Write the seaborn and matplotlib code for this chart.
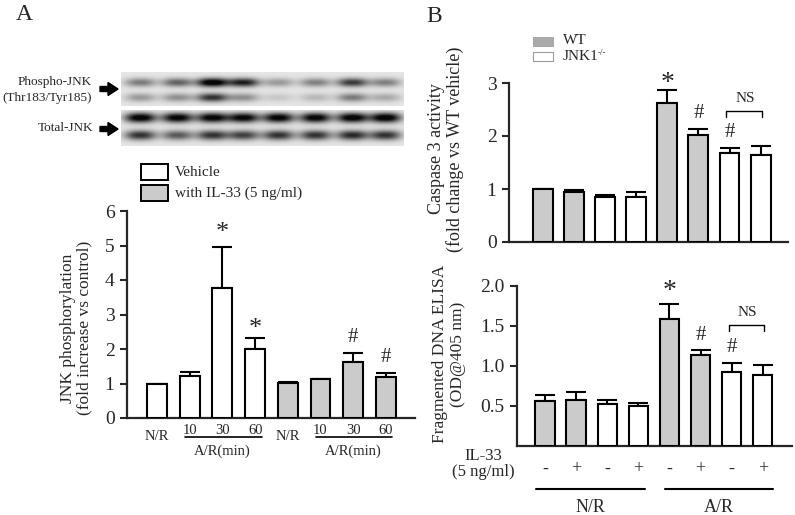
import numpy as np
import pandas as pd
import matplotlib
matplotlib.use("Agg")
import matplotlib.pyplot as plt
import matplotlib.transforms as mtransforms
from matplotlib.patches import Rectangle, Polygon
import seaborn as sns

# ── Data ─────────────────────────────────────────────────────────────────────

# Panel A: JNK phosphorylation (fold increase vs control)
a_lanes = ["veh_NR", "veh_10", "veh_30", "veh_60", "il_NR", "il_10", "il_30", "il_60"]
a_group = ["Vehicle"] * 4 + ["IL-33"] * 4
a_mean = [1.00, 1.22, 3.77, 2.00, 1.01, 1.12, 1.63, 1.19]
a_sem = [0.00, 0.12, 1.18, 0.31, 0.04, 0.02, 0.25, 0.10]
a_marks = {2: "*", 3: "*", 6: "#", 7: "#"}
a_time_labels = ["10", "30", "60"]

# Western blot band intensities per lane (0..1, darker = stronger)
blot_phospho_upper = [0.42, 0.52, 1.00, 0.80, 0.30, 0.40, 0.68, 0.40]
blot_phospho_lower = [0.30, 0.34, 0.72, 0.34, 0.12, 0.18, 0.42, 0.24]
blot_total_upper = [0.98, 0.95, 0.95, 0.93, 0.95, 0.95, 0.98, 1.00]
blot_total_lower = [0.72, 0.56, 0.72, 0.66, 0.72, 0.72, 0.76, 0.72]

# Panel B: WT vs JNK1-/- with/without IL-33
b_lanes = ["NR_WT_-", "NR_WT_+", "NR_KO_-", "NR_KO_+", "AR_WT_-", "AR_WT_+", "AR_KO_-", "AR_KO_+"]
b_genotype = ["WT", "WT", "KO", "KO", "WT", "WT", "KO", "KO"]
b_il33 = ["-", "+", "-", "+", "-", "+", "-", "+"]
casp_mean = [1.00, 0.94, 0.84, 0.85, 2.63, 2.01, 1.67, 1.64]
casp_sem = [0.00, 0.05, 0.05, 0.09, 0.23, 0.13, 0.10, 0.18]
dna_mean = [0.56, 0.57, 0.52, 0.50, 1.59, 1.14, 0.92, 0.89]
dna_sem = [0.08, 0.11, 0.06, 0.04, 0.18, 0.06, 0.12, 0.12]
b_marks = {4: "*", 5: "#", 6: "#"}

# ── Style ────────────────────────────────────────────────────────────────────

W, H = 795, 515
GRAY = "#cbcbcb"
sns.set_style("ticks")
plt.rcParams["font.family"] = ["Liberation Serif", "DejaVu Serif"]
plt.rcParams["mathtext.fontset"] = "stix"
plt.rcParams["axes.linewidth"] = 1.5

fig = plt.figure(figsize=(W / 100, H / 100), dpi=100)


def px_axes(x0, y0, x1, y1):
    """Axes placed by pixel box (top-left origin)."""
    return fig.add_axes([x0 / W, 1 - y1 / H, (x1 - x0) / W, (y1 - y0) / H])


def fy(y):
    return 1 - y / H


def fx(x):
    return x / W


def bar_panel(ax, lanes, groups, means, sems, palette, xlim, ylim, width):
    df = pd.DataFrame({"lane": lanes, "group": groups, "mean": means})
    sns.barplot(data=df, x="lane", y="mean", hue="group", palette=palette,
                order=lanes, dodge=False, width=width, edgecolor="black",
                linewidth=1.5, errorbar=None, legend=False, ax=ax, zorder=3)
    ax.errorbar(np.arange(len(lanes)), means, yerr=[np.zeros(len(lanes)), sems],
                fmt="none", ecolor="black", elinewidth=1.5, capsize=7.5,
                capthick=1.5, zorder=2)
    ax.set_xlim(*xlim)
    ax.set_ylim(*ylim)
    ax.set_xlabel("")
    ax.set_ylabel("")
    ax.set_xticks([])
    ax.patch.set_alpha(0)
    sns.despine(ax=ax)
    ax.tick_params(axis="y", direction="out", length=5, width=1.5, pad=4)
    for s in ("left", "bottom"):
        ax.spines[s].set_linewidth(1.6)


# ── Panel A ──────────────────────────────────────────────────────────────────

fig.text(fx(24), fy(15), "A", fontsize=17, ha="center", va="center")

# blot strips
lane_x = np.array([19, 56, 91, 122, 157, 194, 231, 264])


def blot_image(h, w, rows, wy):
    yy, xx = np.mgrid[0:h, 0:w]
    img = np.full((h, w), 0.90)
    for cy, vals in rows:
        for cx, v in zip(lane_x, vals):
            shape = np.exp(-np.abs((xx - cx) / 15.5) ** 2.5) * np.exp(-((yy - cy) / wy) ** 2)
            img -= 1.0 * v * shape
    return np.clip(img, 0.03, 1)


ax_p = px_axes(121, 72, 404, 106)
ax_p.imshow(blot_image(34, 283, [(10, blot_phospho_upper), (25, blot_phospho_lower)], 4.4),
            cmap="gray", vmin=0, vmax=1, aspect="auto", interpolation="bilinear")
ax_p.axis("off")
ax_t = px_axes(121, 110, 404, 146)
ax_t.imshow(blot_image(36, 283, [(8, blot_total_upper), (25, blot_total_lower)], 4.8),
            cmap="gray", vmin=0, vmax=1, aspect="auto", interpolation="bilinear")
ax_t.axis("off")

fig.text(fx(92), fy(82), "Phospho-JNK", fontsize=9.5, ha="right", va="center")
fig.text(fx(92), fy(98), "(Thr183/Tyr185)", fontsize=9.5, ha="right", va="center")
fig.text(fx(93), fy(128), "Total-JNK", fontsize=9.5, ha="right", va="center")


def arrow(cy):
    pts = [(100, cy - 2.5), (108, cy - 2.5), (108, cy - 6.5), (118, cy),
           (108, cy + 6.5), (108, cy + 2.5), (100, cy + 2.5)]
    fig.add_artist(Polygon([(fx(x), fy(y)) for x, y in pts], closed=True,
                           transform=fig.transFigure, color="black"))


arrow(89)
arrow(129)

# legend A
for (y0, y1), col, lab in [((164, 180), "white", "Vehicle"),
                           ((185, 201), GRAY, "with IL-33 (5 ng/ml)")]:
    fig.add_artist(Rectangle((fx(141), fy(y1)), (168 - 141) / W, (y1 - y0) / H,
                             transform=fig.transFigure, facecolor=col,
                             edgecolor="black", linewidth=1.4))
    fig.text(fx(175), fy((y0 + y1) / 2), lab, fontsize=11, ha="left", va="center")

axA = px_axes(127, 211, 415, 418)
bar_panel(axA, a_lanes, a_group, a_mean, a_sem,
          {"Vehicle": "white", "IL-33": GRAY}, (-0.92, 7.89), (0, 6), 0.61)
axA.set_yticks(range(0, 7))
axA.tick_params(axis="y", labelsize=14)

blendA = mtransforms.blended_transform_factory(axA.transData, fig.transFigure)
mark_y_A = {2: 233, 3: 329, 6: 337, 7: 357}
for i, m in a_marks.items():
    axA.text(i, fy(mark_y_A[i]), m, transform=blendA, ha="center", va="center",
             fontsize=19 if m == "*" else 15)

for start in (0, 4):
    axA.text(start, fy(437), "N/R", transform=blendA, ha="center", va="center", fontsize=10.5)
    for k, lab in enumerate(a_time_labels):
        axA.text(start + 1 + k, fy(430), lab, transform=blendA, ha="center",
                 va="center", fontsize=10.5)
    axA.plot([start + 0.86, start + 3.2], [fy(437)] * 2, transform=blendA,
             color="black", lw=1.2, clip_on=False)
    axA.text(start + 2, fy(451), "A/R(min)", transform=blendA, ha="center",
             va="center", fontsize=10.5)

fig.text(fx(76), fy(328), "JNK phosphorylation\n(fold increase vs control)",
         rotation=90, ha="center", va="center", fontsize=12.5, linespacing=1.05)

# ── Panel B ──────────────────────────────────────────────────────────────────

fig.text(fx(434), fy(16), "B", fontsize=17, ha="center", va="center")

fig.add_artist(Rectangle((fx(533), fy(46)), 20 / W, 9 / H, transform=fig.transFigure,
                         facecolor="#a9a9a9", edgecolor="#a0a0a0", linewidth=0.6))
fig.add_artist(Rectangle((fx(533), fy(61)), 20 / W, 9 / H, transform=fig.transFigure,
                         facecolor="white", edgecolor="#9a9a9a", linewidth=0.8))
fig.text(fx(563), fy(41), "WT", fontsize=11, ha="left", va="center")
fig.text(fx(563), fy(57), "JNK1", fontsize=11, ha="left", va="center")
fig.text(fx(598), fy(53), "-/-", fontsize=6.5, ha="left", va="center")

b_palette = {"WT": GRAY, "KO": "white"}

axC = px_axes(509, 83, 788, 242)
bar_panel(axC, b_lanes, b_genotype, casp_mean, casp_sem, b_palette,
          (-1.09, 7.88), (0, 3), 0.64)
axC.set_yticks([0, 1, 2, 3])
axC.tick_params(axis="y", labelsize=14)

axD = px_axes(517, 286, 792, 446)
bar_panel(axD, b_lanes, b_genotype, dna_mean, dna_sem, b_palette,
          (-0.9, 7.94), (0, 2.0), 0.62)
axD.set_yticks([0.5, 1.0, 1.5, 2.0])
axD.set_yticklabels(["0.5", "1.0", "1.5", "2.0"])
axD.tick_params(axis="y", labelsize=14)


def annotate_b(ax, marks_y, bracket_y, ns_y):
    blend = mtransforms.blended_transform_factory(ax.transData, fig.transFigure)
    for i, m in b_marks.items():
        ax.text(i, fy(marks_y[i]), m, transform=blend, ha="center", va="center",
                fontsize=20 if m == "*" else 15)
    ax.plot([6 - 0.1, 6 - 0.1, 7 + 0.05, 7 + 0.05],
            [fy(bracket_y + 6), fy(bracket_y), fy(bracket_y), fy(bracket_y + 6)],
            transform=blend, color="black", lw=1.0, clip_on=False)
    ax.text(6.5, fy(ns_y), "NS", transform=blend, ha="center", va="center", fontsize=11)
    return blend


annotate_b(axC, {4: 83, 5: 113, 6: 132}, 111, 98)
blendD = annotate_b(axD, {4: 291, 5: 335, 6: 347}, 325, 312)

for i, s in enumerate(b_il33):
    axD.text(i, fy(469), s, transform=blendD, ha="center", va="center", fontsize=13)
fig.text(fx(483), fy(456), "IL-33", fontsize=12, ha="center", va="center")
fig.text(fx(483), fy(472), "(5 ng/ml)", fontsize=12, ha="center", va="center")
for (x0, x1), lab in [((-0.28, 3.2), "N/R"), ((3.85, 7.32), "A/R")]:
    axD.plot([x0, x1], [fy(489)] * 2, transform=blendD, color="black", lw=1.5, clip_on=False)
    axD.text((x0 + x1) / 2, fy(508), lab, transform=blendD, ha="center", va="center",
             fontsize=13)

fig.text(fx(446), fy(149), "Caspase 3 activity\n(fold change vs WT vehicle)",
         rotation=90, ha="center", va="center", fontsize=13, linespacing=1.05)
fig.text(fx(449), fy(354), "Fragmented DNA ELISA\n(OD@405 nm)",
         rotation=90, ha="center", va="center", fontsize=12.5, linespacing=1.25)

fig.savefig("out.png", dpi=100)
